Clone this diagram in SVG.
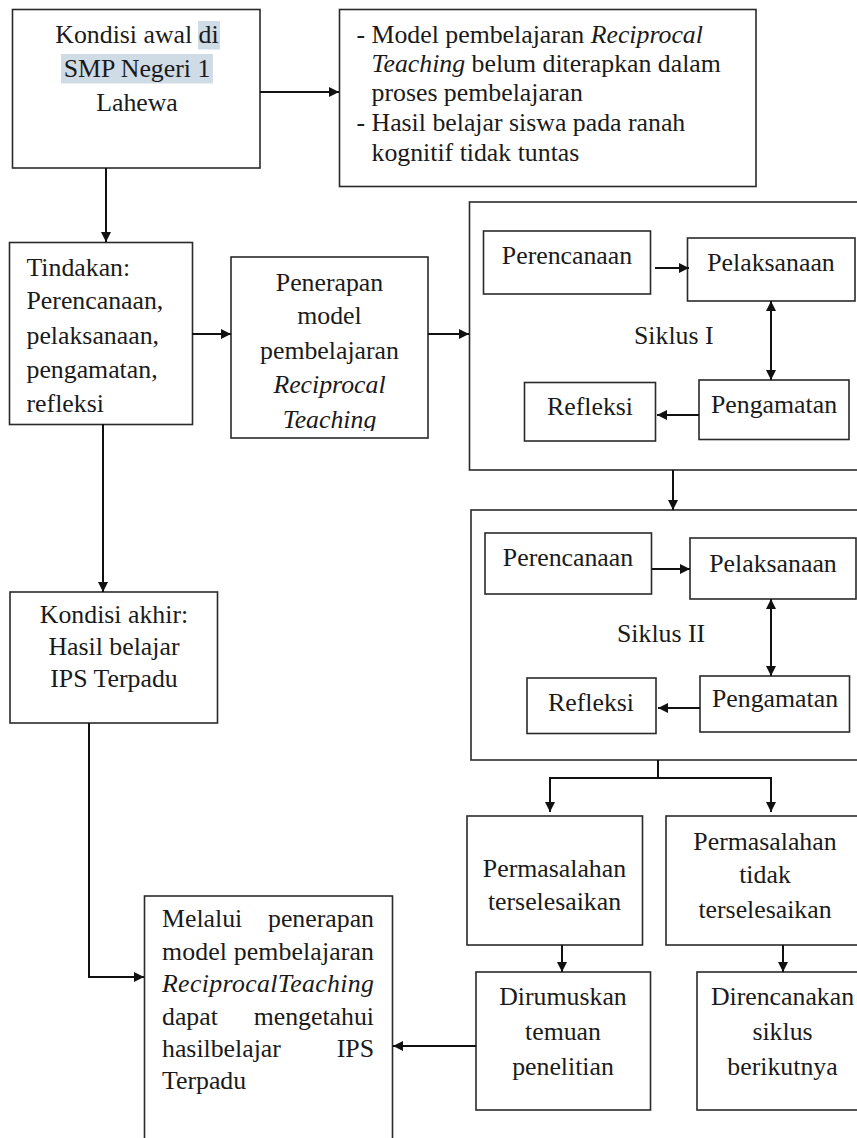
<svg xmlns="http://www.w3.org/2000/svg" width="857" height="1138" viewBox="0 0 857 1138">
<style>
.box{fill:#fff;stroke:#2a2a2a;stroke-width:1.6}
.t{font-family:"Liberation Serif","Times New Roman",serif;font-size:25.8px;fill:#1a1a1a}
.c{text-anchor:middle}
.e{text-anchor:end}
.i{font-style:italic}
.hl{fill:#cfdbe5}
.ln{fill:none;stroke:#111;stroke-width:2}
</style>
<defs>
<marker id="ah" viewBox="0 0 10 10" refX="10" refY="5" markerWidth="11" markerHeight="10" markerUnits="userSpaceOnUse" orient="auto-start-reverse"><path d="M0,0 L10,5 L0,10 z" fill="#111"/></marker>
<clipPath id="clipD"><rect x="231" y="257" width="197" height="174"/></clipPath>
</defs>
<rect width="857" height="1138" fill="#fff"/>

<g id="kondisi-awal">
<rect class="box" x="12.5" y="9.5" width="247.5" height="158.5"/>
<rect class="hl" x="198" y="21" width="22" height="28.5"/>
<rect class="hl" x="61" y="54" width="152" height="29.5"/>
<text class="t c" x="137" y="43">Kondisi awal di</text>
<text class="t c" x="137" y="77">SMP Negeri 1</text>
<text class="t c" x="137" y="111">Lahewa</text>
</g>

<g id="masalah">
<rect class="box" x="339.5" y="9.5" width="416.5" height="177"/>
<text class="t" x="356.5" y="43">-</text>
<text class="t" x="371.5" y="43">Model pembelajaran <tspan class="i">Reciprocal</tspan></text>
<text class="t" x="371.5" y="72"><tspan class="i">Teaching</tspan> belum diterapkan dalam</text>
<text class="t" x="371.5" y="101">proses pembelajaran</text>
<text class="t" x="356.5" y="131">-</text>
<text class="t" x="371.5" y="131">Hasil belajar siswa pada ranah</text>
<text class="t" x="371.5" y="161">kognitif tidak tuntas</text>
</g>

<g id="tindakan">
<rect class="box" x="9.5" y="242.5" width="183" height="182"/>
<text class="t" x="26.5" y="276">Tindakan:</text>
<text class="t" x="26.5" y="309">Perencanaan,</text>
<text class="t" x="26.5" y="344">pelaksanaan,</text>
<text class="t" x="26.5" y="378">pengamatan,</text>
<text class="t" x="26.5" y="412">refleksi</text>
</g>

<g id="penerapan">
<rect class="box" x="231" y="257" width="197" height="181"/>
<g clip-path="url(#clipD)">
<text class="t c" x="329.5" y="291">Penerapan</text>
<text class="t c" x="329.5" y="324">model</text>
<text class="t c" x="329.5" y="359">pembelajaran</text>
<text class="t c i" x="329.5" y="393">Reciprocal</text>
<text class="t c i" x="329.5" y="428">Teaching</text>
</g>
</g>

<g id="siklus-1">
<rect class="box" x="469.5" y="202" width="400" height="268"/>
<text class="t" x="634" y="344">Siklus I</text>
</g>
<g id="s1-perencanaan">
<rect class="box" x="483.5" y="231" width="167" height="63"/>
<text class="t c" x="567" y="264">Perencanaan</text>
</g>
<g id="s1-pelaksanaan">
<rect class="box" x="687.5" y="238" width="167.5" height="63"/>
<text class="t c" x="771" y="271">Pelaksanaan</text>
</g>
<g id="s1-pengamatan">
<rect class="box" x="699" y="380" width="150" height="59.5"/>
<text class="t c" x="774" y="413">Pengamatan</text>
</g>
<g id="s1-refleksi">
<rect class="box" x="524.5" y="382.5" width="131" height="58.5"/>
<text class="t c" x="590" y="415">Refleksi</text>
</g>

<g id="siklus-2">
<rect class="box" x="471" y="510" width="400" height="250"/>
<text class="t" x="617" y="642">Siklus II</text>
</g>
<g id="s2-perencanaan">
<rect class="box" x="485" y="533" width="166.5" height="61"/>
<text class="t c" x="568" y="566">Perencanaan</text>
</g>
<g id="s2-pelaksanaan">
<rect class="box" x="690" y="538" width="166" height="61"/>
<text class="t c" x="773" y="572">Pelaksanaan</text>
</g>
<g id="s2-pengamatan">
<rect class="box" x="700" y="676" width="149.5" height="56"/>
<text class="t c" x="775" y="707">Pengamatan</text>
</g>
<g id="s2-refleksi">
<rect class="box" x="527" y="678" width="129" height="55.5"/>
<text class="t c" x="591" y="711">Refleksi</text>
</g>

<g id="terselesaikan">
<rect class="box" x="467" y="816" width="175.5" height="129"/>
<text class="t c" x="554.5" y="877">Permasalahan</text>
<text class="t c" x="554.5" y="910">terselesaikan</text>
</g>
<g id="tidak-terselesaikan">
<rect class="box" x="666" y="816" width="200" height="129"/>
<text class="t c" x="765" y="850">Permasalahan</text>
<text class="t c" x="765" y="883">tidak</text>
<text class="t c" x="765" y="918">terselesaikan</text>
</g>
<g id="dirumuskan">
<rect class="box" x="476" y="972" width="174.5" height="138"/>
<text class="t c" x="563" y="1005">Dirumuskan</text>
<text class="t c" x="563" y="1040">temuan</text>
<text class="t c" x="563" y="1075">penelitian</text>
</g>
<g id="direncanakan">
<rect class="box" x="697" y="972" width="180" height="138"/>
<text class="t c" x="782.5" y="1005">Direncanakan</text>
<text class="t c" x="782.5" y="1040">siklus</text>
<text class="t c" x="782.5" y="1075">berikutnya</text>
</g>

<g id="kondisi-akhir">
<rect class="box" x="10" y="592" width="207.5" height="131"/>
<text class="t c" x="114" y="623">Kondisi akhir:</text>
<text class="t c" x="114" y="655">Hasil belajar</text>
<text class="t c" x="114" y="687">IPS Terpadu</text>
</g>

<g id="kesimpulan">
<rect class="box" x="144.5" y="896" width="248" height="260"/>
<text class="t" x="162" y="927">Melalui</text>
<text class="t e" x="374" y="927">penerapan</text>
<text class="t" x="162" y="960" textLength="212" lengthAdjust="spacing">model pembelajaran</text>
<text class="t i" x="162" y="992" textLength="212" lengthAdjust="spacing">ReciprocalTeaching</text>
<text class="t" x="162" y="1025">dapat</text>
<text class="t e" x="374" y="1025">mengetahui</text>
<text class="t" x="162" y="1057">hasilbelajar</text>
<text class="t e" x="374" y="1057">IPS</text>
<text class="t" x="162" y="1089">Terpadu</text>
</g>

<g id="connectors">
<line class="ln" x1="260" y1="92" x2="339" y2="92" marker-end="url(#ah)"/>
<line class="ln" x1="106" y1="168" x2="106" y2="242" marker-end="url(#ah)"/>
<line class="ln" x1="192" y1="334" x2="231" y2="334" marker-end="url(#ah)"/>
<line class="ln" x1="428" y1="334" x2="469" y2="334" marker-end="url(#ah)"/>
<line class="ln" x1="103" y1="424" x2="103" y2="592" marker-end="url(#ah)"/>
<polyline class="ln" points="89,723 89,977 144,977" marker-end="url(#ah)"/>
<line class="ln" x1="673" y1="470" x2="673" y2="510" marker-end="url(#ah)"/>
<line class="ln" x1="655" y1="268" x2="689" y2="268" marker-end="url(#ah)"/>
<line class="ln" x1="771" y1="301" x2="771" y2="380" marker-start="url(#ah)" marker-end="url(#ah)"/>
<line class="ln" x1="699" y1="415" x2="657" y2="415" marker-end="url(#ah)"/>
<line class="ln" x1="652" y1="569" x2="690" y2="569" marker-end="url(#ah)"/>
<line class="ln" x1="771" y1="599" x2="771" y2="676" marker-start="url(#ah)" marker-end="url(#ah)"/>
<line class="ln" x1="700" y1="708" x2="658" y2="708" marker-end="url(#ah)"/>
<line class="ln" x1="658" y1="760" x2="658" y2="778"/>
<polyline class="ln" points="550,812 550,778 771,778 771,812" marker-start="url(#ah)" marker-end="url(#ah)"/>
<line class="ln" x1="562" y1="945" x2="562" y2="972" marker-end="url(#ah)"/>
<line class="ln" x1="783" y1="945" x2="783" y2="972" marker-end="url(#ah)"/>
<line class="ln" x1="476" y1="1046" x2="393" y2="1046" marker-end="url(#ah)"/>
</g>
</svg>
